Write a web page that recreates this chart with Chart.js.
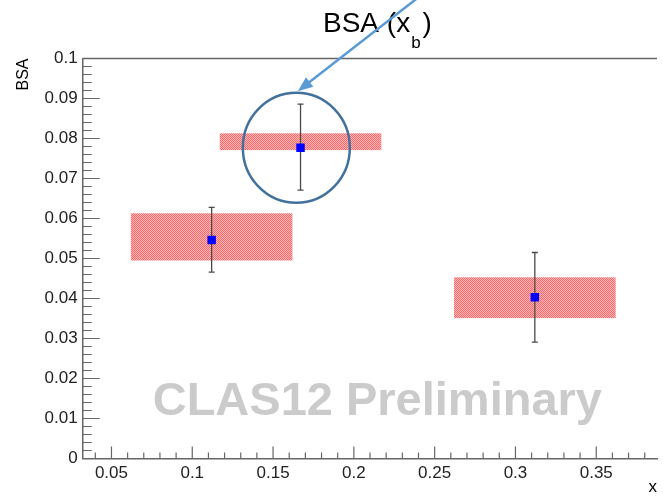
<!DOCTYPE html>
<html>
<head>
<meta charset="utf-8">
<script src="https://cdn.jsdelivr.net/npm/chart.js@4.4.1/dist/chart.umd.min.js"></script>
<style>
  html, body { margin: 0; padding: 0; background: #fff; overflow: hidden; }
  canvas { display: block; }
</style>
</head>
<body>
<canvas id="bsa" width="663" height="498"></canvas>
<script>
// x_B bins, BSA values, stat. errors and systematic band
const binCenters = [0.112, 0.167, 0.312];
const binHalfWidth = [0.05, 0.05, 0.05];
const bsaValues = [0.0546, 0.0777, 0.0403];
const statLow = [0.0466, 0.0671, 0.0291];
const statHigh = [0.0628, 0.0886, 0.0515];
const sysLow = [0.0495, 0.0771, 0.0351];
const sysHigh = [0.0613, 0.0813, 0.0453];

const xTicks = [0.05, 0.1, 0.15, 0.2, 0.25, 0.3, 0.35];
const yTicks = [0, 0.01, 0.02, 0.03, 0.04, 0.05, 0.06, 0.07, 0.08, 0.09, 0.1];
const xRange = [0.0322, 0.3876];
const yRange = [0, 0.1];

const FONT = '"Liberation Sans", Arial, Helvetica, sans-serif';

// red stippled fill like the ROOT hatch
function makePattern() {
  const c = document.createElement('canvas');
  c.width = 2; c.height = 2;
  const g = c.getContext('2d');
  g.fillStyle = '#ffbcbc'; g.fillRect(0, 0, 2, 2);
  g.fillStyle = '#ff6464'; g.fillRect(0, 0, 1, 1); g.fillRect(1, 1, 1, 1);
  return g.createPattern(c, 'repeat');
}

const fmt = v => String(Number(v.toFixed(3)));

const rootStyle = {
  id: 'rootStyle',
  beforeDatasetsDraw(chart) {
    const { ctx, chartArea: a, scales: { x, y } } = chart;
    ctx.save();
    // watermark
    ctx.fillStyle = '#cbcbcb';
    ctx.font = 'bold 47px ' + FONT;
    ctx.textAlign = 'right';
    ctx.textBaseline = 'alphabetic';
    ctx.fillText('CLAS12 Preliminary', 602, 415);

    // top frame line
    ctx.strokeStyle = '#666';
    ctx.lineWidth = 1.5;
    ctx.beginPath();
    ctx.moveTo(a.left, a.top);
    ctx.lineTo(a.right, a.top);
    ctx.stroke();

    // inner ticks, x
    ctx.lineWidth = 1.2;
    ctx.beginPath();
    for (let i = Math.ceil(xRange[0] * 100); i <= Math.floor(xRange[1] * 100); i++) {
      const px = x.getPixelForValue(i / 100);
      const len = i % 5 === 0 ? 12 : 6;
      ctx.moveTo(px, a.bottom);
      ctx.lineTo(px, a.bottom - len);
    }
    // inner ticks, y
    for (let i = 0; i <= 50; i++) {
      const py = y.getPixelForValue(i * 0.002);
      const len = i % 5 === 0 ? 17 : 9;
      ctx.moveTo(a.left, py);
      ctx.lineTo(a.left + len, py);
    }
    ctx.stroke();

    // systematic bands
    ctx.fillStyle = makePattern();
    binCenters.forEach((c, i) => {
      const x0 = x.getPixelForValue(c - binHalfWidth[i]);
      const x1 = x.getPixelForValue(c + binHalfWidth[i]);
      const y0 = y.getPixelForValue(sysHigh[i]);
      const y1 = y.getPixelForValue(sysLow[i]);
      ctx.fillRect(x0, y0, x1 - x0, y1 - y0);
    });

    // stat error bars
    ctx.strokeStyle = '#4a4a4a';
    ctx.lineWidth = 1.3;
    binCenters.forEach((c, i) => {
      const px = x.getPixelForValue(c);
      const yl = y.getPixelForValue(statLow[i]);
      const yh = y.getPixelForValue(statHigh[i]);
      ctx.beginPath();
      ctx.moveTo(px, yl); ctx.lineTo(px, yh);
      ctx.moveTo(px - 3, yl); ctx.lineTo(px + 3, yl);
      ctx.moveTo(px - 3, yh); ctx.lineTo(px + 3, yh);
      ctx.stroke();
    });
    ctx.restore();
  },
  afterDraw(chart) {
    const { ctx, scales: { x, y } } = chart;
    ctx.save();
    // title BSA (x_b)
    ctx.fillStyle = '#000';
    ctx.textBaseline = 'alphabetic';
    ctx.textAlign = 'left';
    ctx.font = '28px ' + FONT;
    let tx = 323;
    ctx.fillText('BSA (x', tx, 32);
    tx += ctx.measureText('BSA (x').width;
    ctx.font = '17px ' + FONT;
    ctx.fillText('b', tx + 1, 48);
    tx += ctx.measureText('b').width + 3;
    ctx.font = '28px ' + FONT;
    ctx.fillText(')', tx, 32);

    // circle around the middle point
    const cx = x.getPixelForValue(0.1644);
    const cy = y.getPixelForValue(0.0777);
    ctx.strokeStyle = '#41719c';
    ctx.lineWidth = 2.5;
    ctx.beginPath();
    ctx.ellipse(cx, cy, 53.5, 55, 0, 0, Math.PI * 2);
    ctx.stroke();

    // arrow from the title to the circle
    const tipX = cx + 1.5, tipY = cy - 56.5;
    const sx = tipX + 122, sy = tipY - 95;
    const ang = Math.atan2(tipY - sy, tipX - sx);
    ctx.strokeStyle = '#5b9bd5';
    ctx.fillStyle = '#5b9bd5';
    ctx.lineWidth = 2.5;
    ctx.beginPath();
    ctx.moveTo(sx, sy);
    ctx.lineTo(tipX - 10 * Math.cos(ang), tipY - 10 * Math.sin(ang));
    ctx.stroke();
    ctx.beginPath();
    ctx.moveTo(tipX, tipY);
    ctx.lineTo(tipX - 15 * Math.cos(ang) + 6 * Math.sin(ang), tipY - 15 * Math.sin(ang) - 6 * Math.cos(ang));
    ctx.lineTo(tipX - 15 * Math.cos(ang) - 6 * Math.sin(ang), tipY - 15 * Math.sin(ang) + 6 * Math.cos(ang));
    ctx.closePath();
    ctx.fill();
    ctx.restore();
  }
};

new Chart(document.getElementById('bsa'), {
  type: 'scatter',
  data: {
    datasets: [{
      data: binCenters.map((c, i) => ({ x: c, y: bsaValues[i] })),
      pointStyle: 'rect',
      pointRadius: 6,
      pointHoverRadius: 6,
      backgroundColor: '#0000ff',
      borderColor: '#0000ff',
      borderWidth: 0
    }]
  },
  options: {
    responsive: false,
    animation: false,
    devicePixelRatio: 1,
    layout: { padding: { left: 0, top: 58.5, right: 0, bottom: 0 } },
    plugins: { legend: { display: false }, tooltip: { enabled: false }, title: { display: false } },
    scales: {
      x: {
        type: 'linear',
        min: xRange[0],
        max: xRange[1],
        afterBuildTicks: s => { s.ticks = xTicks.map(v => ({ value: v })); },
        afterFit: s => { s.height = 39.5; },
        grid: { drawOnChartArea: false, drawTicks: false },
        border: { display: true, color: '#666', width: 1.5 },
        ticks: { padding: 5, color: '#222', font: { family: FONT, size: 17 }, maxRotation: 0, callback: v => fmt(v) },
        title: { display: true, text: 'x', align: 'end', color: '#000', font: { family: FONT, size: 17 }, padding: { top: 0, bottom: 0 } }
      },
      y: {
        type: 'linear',
        min: yRange[0],
        max: yRange[1],
        afterBuildTicks: s => { s.ticks = yTicks.map(v => ({ value: v })); },
        afterFit: s => { s.width = 82.7; },
        grid: { drawOnChartArea: false, drawTicks: false },
        border: { display: true, color: '#666', width: 1.5 },
        ticks: { padding: 5, color: '#222', font: { family: FONT, size: 17 }, callback: v => fmt(v) },
        title: { display: true, text: 'BSA', align: 'end', color: '#000', font: { family: FONT, size: 16 }, padding: { top: 14, bottom: 0 } }
      }
    }
  },
  plugins: [rootStyle]
});
</script>
</body>
</html>
